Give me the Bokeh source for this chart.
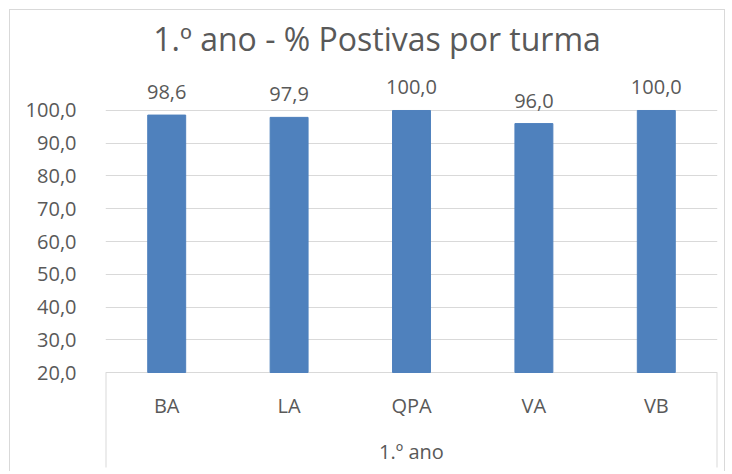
from bokeh.plotting import figure
from bokeh.models import FactorRange, Range1d, FixedTicker, ColumnDataSource
from bokeh.core.properties import value
from bokeh.embed import file_html
from bokeh.resources import INLINE

chart_title = "1.º ano - % Postivas por turma"
group_label = "1.º ano"
turmas = ["BA", "LA", "QPA", "VA", "VB"]
valores = [98.6, 97.9, 100.0, 96.0, 100.0]
y_ticks = [20, 30, 40, 50, 60, 70, 80, 90, 100]


def fmt(v):
    return f"{v:.1f}".replace(".", ",")


FONT = "Open Sans"
TXT = "#595959"
GRID = "#d9d9d9"
BASE = 20
Y0, Y1 = -10.53, 130.53

src = ColumnDataSource(dict(turma=turmas, valor=valores, label=[fmt(v) for v in valores]))

p = figure(width=716, height=462,
           x_range=FactorRange(factors=turmas), y_range=Range1d(Y0, Y1),
           output_backend="svg", toolbar_location=None, x_axis_location=None,
           min_border_left=95, min_border_right=9, min_border_top=0, min_border_bottom=0)

p.styles = {"margin-left": "9px", "margin-top": "9px",
            "border-left": "1px solid #d9d9d9", "border-top": "1px solid #d9d9d9",
            "border-right": "1px solid #d9d9d9"}

p.vbar(x="turma", top="valor", bottom=BASE, width=0.31, source=src,
       fill_color="#4F81BD", line_color="#4F81BD")

# value labels
p.text(x="turma", y="valor", text="label", source=src, y_offset=-23,
       text_align="center", text_baseline="alphabetic", text_font=value(FONT),
       text_font_size="20px", text_color=TXT)

# title
p.text(x=[turmas[len(turmas) // 2]], y=[122.0], text=[chart_title], x_offset=-34.5,
       text_align="center", text_baseline="middle", text_font=value(FONT),
       text_font_size="32px", text_color=TXT)

# category labels and group label
p.text(x=turmas, y=[9.9] * len(turmas), text=turmas, text_align="center",
       text_baseline="middle", text_font=value(FONT), text_font_size="20px", text_color=TXT)
p.text(x=[turmas[len(turmas) // 2]], y=[-4.1], text=[group_label], text_align="center",
       text_baseline="middle", text_font=value(FONT), text_font_size="20px", text_color=TXT)

# group separators at both ends
p.segment(x0=[(turmas[0], -0.5), (turmas[-1], 0.5)], y0=[BASE, BASE],
          x1=[(turmas[0], -0.5), (turmas[-1], 0.5)], y1=[-9.0, -9.0],
          line_color=GRID, line_width=2)

p.yaxis.ticker = FixedTicker(ticks=y_ticks)
p.yaxis.major_label_overrides = {t: fmt(t) for t in y_ticks}
p.yaxis.axis_line_color = None
p.yaxis.major_tick_line_color = None
p.yaxis.minor_tick_line_color = None
p.yaxis.major_label_standoff = 23
p.yaxis.major_label_text_font = FONT
p.yaxis.major_label_text_font_size = "20px"
p.yaxis.major_label_text_color = TXT

p.ygrid.ticker = FixedTicker(ticks=y_ticks)
p.ygrid.grid_line_color = GRID
p.xgrid.grid_line_color = None
p.outline_line_color = None

open("out.html", "w").write(file_html(p, INLINE))
